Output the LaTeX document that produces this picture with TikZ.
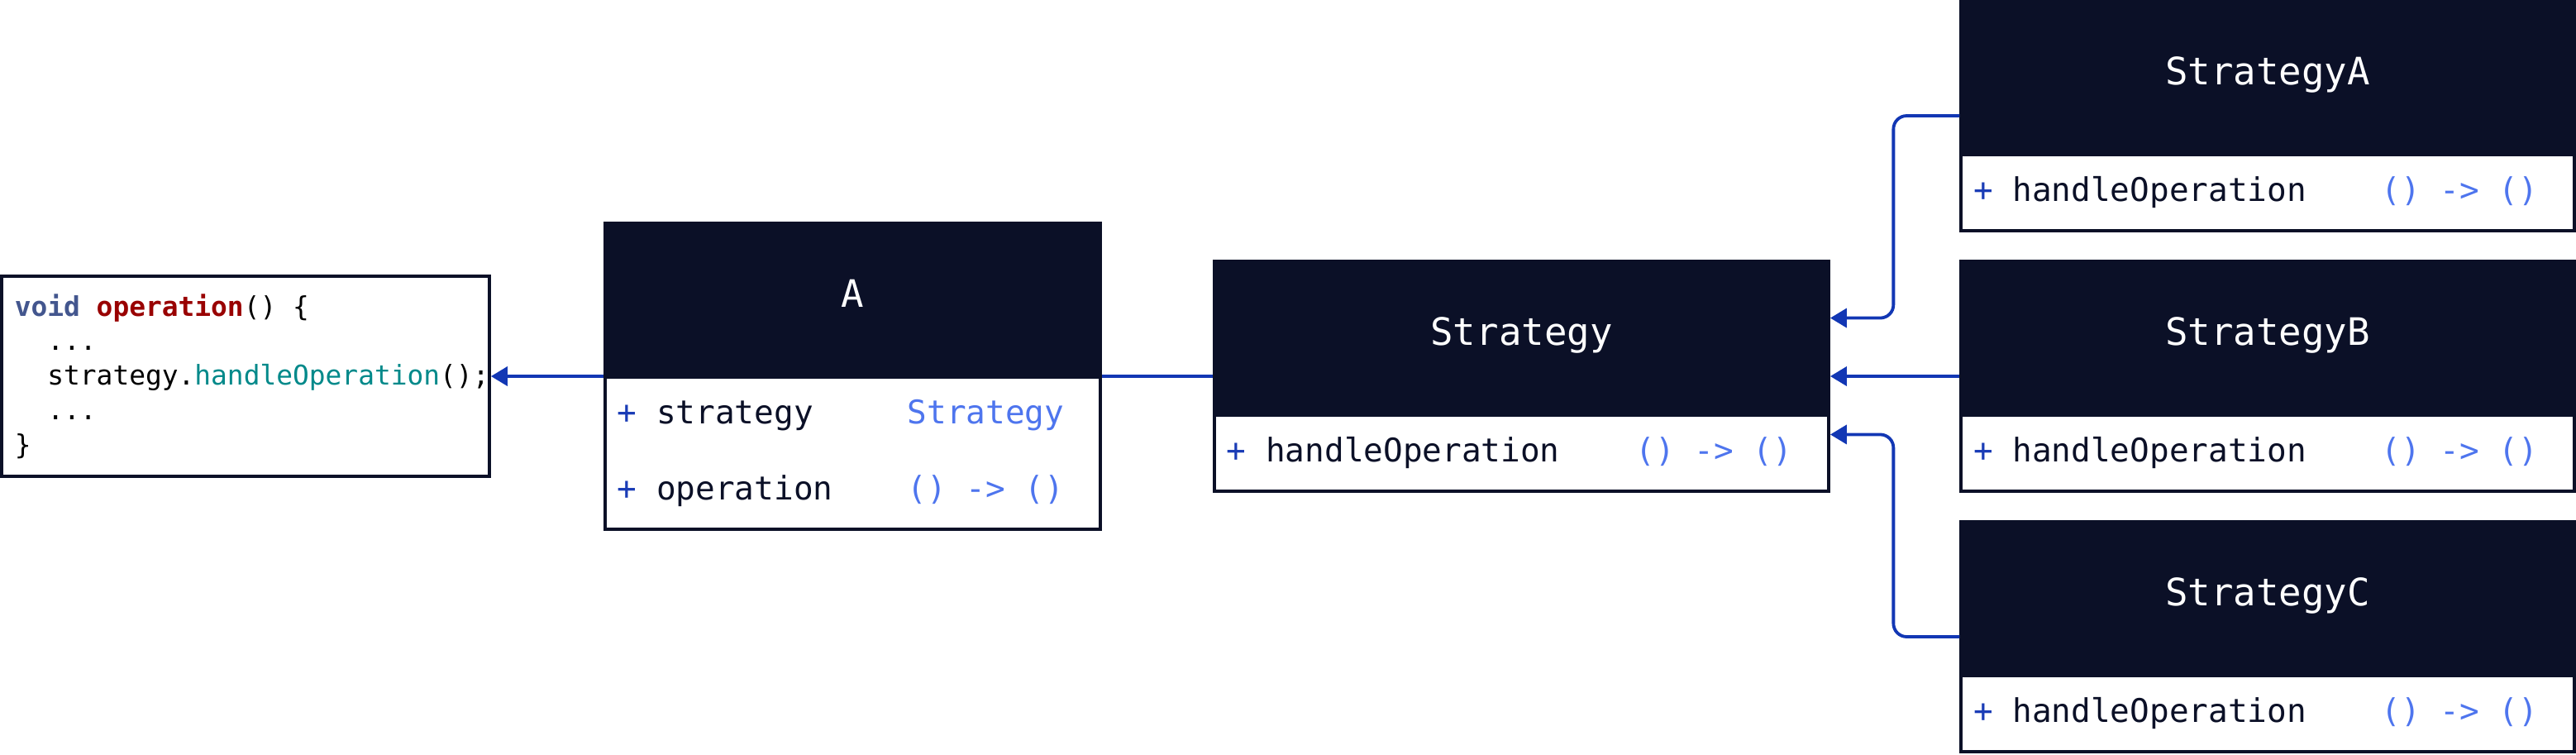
\documentclass[tikz,border=0pt]{standalone}
\usepackage{fontspec}
\setmonofont{DejaVu Sans Mono}
\usetikzlibrary{arrows.meta,calc,positioning}

\definecolor{navy}{HTML}{0B1027}
\definecolor{linkblue}{HTML}{1237B4}
\definecolor{typeblue}{HTML}{4E75EE}
\definecolor{plusblue}{HTML}{1A3CB6}
\definecolor{keyword}{HTML}{43568E}
\definecolor{funcred}{HTML}{990000}
\definecolor{callteal}{HTML}{00898A}

\newcommand{\codeindent}{\phantom{xx}}
\newcommand{\plus}{\textcolor{plusblue}{+}}

\begin{document}
\begin{tikzpicture}[x=1mm, y=-1mm, font=\ttfamily,
class_box/.style={draw=navy, fill=white, line width=0.38mm, inner sep=0pt, minimum height=#1},
head_box/.style={draw=navy, fill=navy, line width=0.38mm, text=white, inner sep=0pt, minimum height=18.6mm, anchor=north, font=\ttfamily\fontsize{13}{15}\selectfont, text height=0.75em, text depth=0.25em},
member_name/.style={anchor=west, inner sep=0pt, text=navy, font=\ttfamily\fontsize{11.2}{13}\selectfont, text height=0.75em, text depth=0.25em},
member_type/.style={anchor=east, inner sep=0pt, text=typeblue, font=\ttfamily\fontsize{11.2}{13}\selectfont, text height=0.75em, text depth=0.25em},
code_box/.style={draw=navy, fill=white, line width=0.38mm, inner sep=0pt, minimum width=59mm, minimum height=24.2mm},
code_text/.style={anchor=west, inner sep=0pt, align=left, text=black, font=\ttfamily\fontsize{9.35}{11.9}\selectfont},
link_line/.style={draw=linkblue, line width=0.38mm, rounded corners=1.6mm},
link_arrow/.style={link_line, -{Triangle[length=2mm, width=2.3mm]}}]

\useasboundingbox (0,0) rectangle (311.6,91.2);

% code snippet
\node[code_box] (code) at (29.7,45.5) {};
\node[code_text] (code_lines) at ([xshift=1.7mm]code.west) {\textcolor{keyword}{\bfseries void} \textcolor{funcred}{\bfseries operation}() \{\\
\codeindent...\\
\codeindent strategy.\textcolor{callteal}{handleOperation}();\\
\codeindent...\\
\}};

% class A
\node[class_box=37mm, minimum width=59.9mm] (a) at (103.15,45.5) {};
\node[head_box, minimum width=59.9mm] (a_head) at (a.north) {A};
\node[member_name] (a_strategy) at ([xshift=1.6mm, yshift=-4.6mm]a_head.south west) {\plus{} strategy};
\node[member_type] (a_strategy_type) at ([xshift=-4.5mm, yshift=-4.6mm]a_head.south east) {Strategy};
\node[member_name] (a_operation) at ([yshift=-9.2mm]a_strategy.west) {\plus{} operation};
\node[member_type] (a_operation_type) at ([yshift=-9.2mm]a_strategy_type.east) {() -> ()};

% interface Strategy
\node[class_box=27.8mm, minimum width=74.3mm] (strategy) at (184.05,45.5) {};
\node[head_box, minimum width=74.3mm] (strategy_head) at (strategy.north) {Strategy};
\node[member_name] (strategy_handle) at ([xshift=1.6mm, yshift=-4.6mm]strategy_head.south west) {\plus{} handleOperation};
\node[member_type] (strategy_handle_type) at ([xshift=-4.5mm, yshift=-4.6mm]strategy_head.south east) {() -> ()};

% concrete strategies
\node[class_box=27.8mm, minimum width=74.15mm] (strategy_a) at (274.3,14.0) {};
\node[head_box, minimum width=74.15mm] (strategy_a_head) at (strategy_a.north) {StrategyA};
\node[member_name] (strategy_a_handle) at ([xshift=1.6mm, yshift=-4.6mm]strategy_a_head.south west) {\plus{} handleOperation};
\node[member_type] (strategy_a_type) at ([xshift=-4.5mm, yshift=-4.6mm]strategy_a_head.south east) {() -> ()};

\node[class_box=27.8mm, minimum width=74.15mm] (strategy_b) at (274.3,45.5) {};
\node[head_box, minimum width=74.15mm] (strategy_b_head) at (strategy_b.north) {StrategyB};
\node[member_name] (strategy_b_handle) at ([xshift=1.6mm, yshift=-4.6mm]strategy_b_head.south west) {\plus{} handleOperation};
\node[member_type] (strategy_b_type) at ([xshift=-4.5mm, yshift=-4.6mm]strategy_b_head.south east) {() -> ()};

\node[class_box=27.8mm, minimum width=74.15mm] (strategy_c) at (274.3,77.0) {};
\node[head_box, minimum width=74.15mm] (strategy_c_head) at (strategy_c.north) {StrategyC};
\node[member_name] (strategy_c_handle) at ([xshift=1.6mm, yshift=-4.6mm]strategy_c_head.south west) {\plus{} handleOperation};
\node[member_type] (strategy_c_type) at ([xshift=-4.5mm, yshift=-4.6mm]strategy_c_head.south east) {() -> ()};

% connectors
\draw[link_arrow] (a.west) -- (code.east);
\draw[link_line] (a.east) -- (strategy.west);
\draw[link_arrow] (strategy_a.west) -- ++(-8,0) |- ($(strategy.north east)!0.25!(strategy.south east)$);
\draw[link_arrow] (strategy_b.west) -- (strategy.east);
\draw[link_arrow] (strategy_c.west) -- ++(-8,0) |- ($(strategy.north east)!0.75!(strategy.south east)$);

\end{tikzpicture}
\end{document}
